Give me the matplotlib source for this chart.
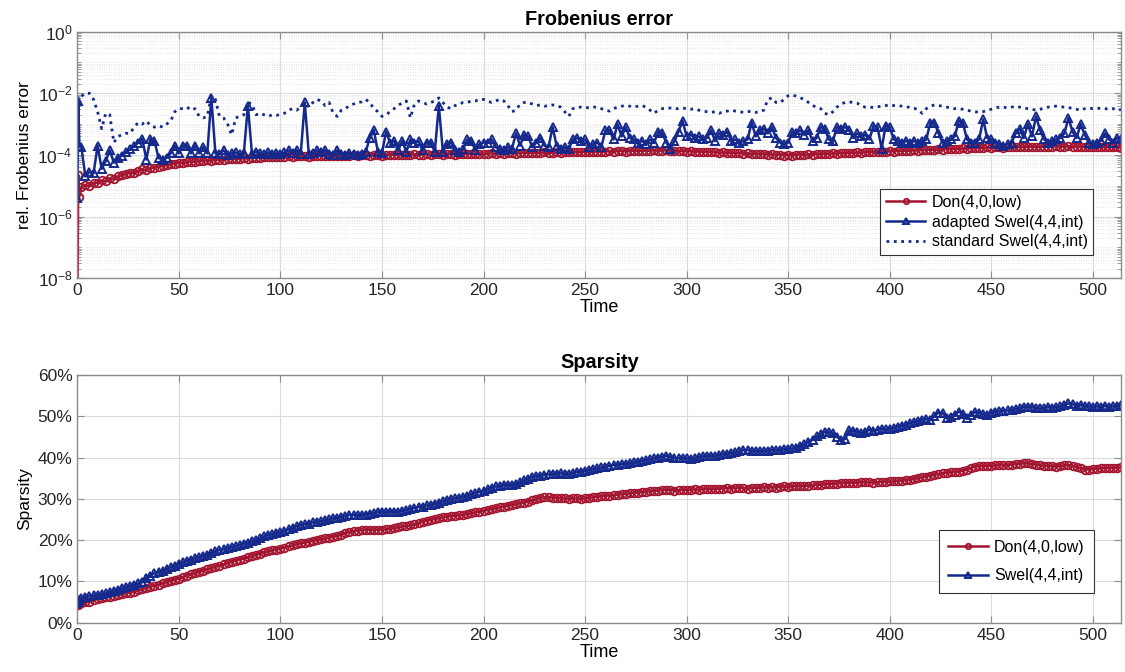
import numpy as np
import matplotlib.pyplot as plt
from matplotlib.ticker import FixedLocator, LogLocator, NullFormatter, PercentFormatter

plt.rcParams["font.family"] = ["Liberation Sans", "DejaVu Sans"]
plt.rcParams["mathtext.fontset"] = "custom"
plt.rcParams["mathtext.rm"] = "Liberation Sans"

# Time axis: first steps are finer, then every 2 time units
time = [0, 0.5, 1] + list(range(2, 516, 2))

# log10 of the relative Frobenius error
don_err_log = [
    -9.0, -4.65, -5.35,
    -5.05, -4.98, -5.02, -4.9, -4.92, -4.83, -4.86, -4.76, -4.78, -4.7,
    -4.66, -4.62, -4.58, -4.6, -4.52, -4.47, -4.5, -4.43, -4.41, -4.38,
    -4.36, -4.33, -4.31, -4.29, -4.26, -4.27, -4.24, -4.22, -4.23, -4.2,
    -4.19, -4.18, -4.19, -4.16, -4.15, -4.16, -4.14, -4.13, -4.14, -4.12,
    -4.11, -4.12, -4.1, -4.09, -4.1, -4.08, -4.07, -4.08, -4.06, -4.06,
    -4.06, -4.05, -4.07, -4.05, -4.04, -4.05, -4.06, -4.04, -4.03, -4.04,
    -4.03, -4.04, -4.02, -4.03, -4.02, -4.04, -4.02, -4.01, -4.03, -4.01,
    -4.0, -4.02, -4.01, -4.0, -4.02, -4.01, -4.0, -3.99, -4.01, -4.0,
    -3.99, -4.0, -3.98, -4.0, -3.99, -3.98, -4.0, -3.98, -3.97, -3.99,
    -3.98, -3.97, -3.99, -3.97, -3.98, -3.96, -3.97, -3.98, -3.96, -3.97,
    -3.96, -3.95, -3.97, -3.95, -3.96, -3.94, -3.95, -3.96, -3.94, -3.93,
    -3.94, -3.93, -3.95, -3.93, -3.92, -3.94, -3.93, -3.92, -3.93, -3.91,
    -3.92, -3.9, -3.92, -3.91, -3.9, -3.92, -3.9, -3.89, -3.91, -3.89,
    -3.88, -3.9, -3.88, -3.87, -3.89, -3.88, -3.86, -3.88, -3.87, -3.86,
    -3.87, -3.85, -3.87, -3.86, -3.85, -3.87, -3.86, -3.88, -3.87, -3.89,
    -3.88, -3.9, -3.89, -3.91, -3.9, -3.92, -3.91, -3.93, -3.92, -3.94,
    -3.93, -3.95, -3.94, -3.96, -3.95, -3.97, -3.96, -3.98, -3.97, -3.99,
    -3.98, -4.0, -3.99, -4.02, -4.0, -4.03, -4.0, -3.99, -4.01, -3.98,
    -3.99, -3.97, -3.98, -3.96, -3.97, -3.95, -3.96, -3.94, -3.95, -3.93,
    -3.94, -3.92, -3.93, -3.91, -3.92, -3.9, -3.91, -3.89, -3.9, -3.88,
    -3.89, -3.87, -3.88, -3.86, -3.87, -3.85, -3.86, -3.84, -3.85, -3.83,
    -3.84, -3.82, -3.83, -3.81, -3.82, -3.8, -3.81, -3.79, -3.8, -3.78,
    -3.79, -3.77, -3.78, -3.76, -3.77, -3.76, -3.75, -3.77, -3.76, -3.75,
    -3.76, -3.74, -3.75, -3.74, -3.73, -3.75, -3.74, -3.73, -3.74, -3.73,
    -3.72, -3.74, -3.73, -3.72, -3.74, -3.73, -3.75, -3.74, -3.76, -3.75,
    -3.74, -3.76, -3.75, -3.74, -3.76, -3.75, -3.77,
]

adapted_err_log = [
    -5.4, -2.25, -3.7,
    -3.75, -4.7, -4.55, -4.6, -3.7, -4.45, -4.2, -3.85, -4.25, -4.1,
    -4.02, -3.92, -3.82, -3.72, -3.6, -3.48, -4.15, -3.48, -3.55, -4.1,
    -4.15, -4.1, -3.95, -3.7, -3.95, -3.7, -3.7, -3.95, -3.7, -3.95,
    -3.75, -3.95, -2.15, -3.95, -3.98, -3.85, -4.0, -3.95, -3.92, -3.98,
    -3.95, -2.4, -3.97, -3.9, -3.95, -3.98, -3.92, -3.97, -3.95, -3.98,
    -3.92, -3.85, -3.95, -3.85, -3.97, -2.3, -3.98, -3.95, -3.85, -3.9,
    -3.85, -3.97, -4.0, -3.85, -3.98, -4.0, -3.95, -3.98, -4.0, -3.97,
    -3.9, -3.45, -3.2, -3.9, -3.95, -3.25, -3.6, -3.55, -3.85, -3.55,
    -3.9, -3.5, -3.6, -3.55, -3.85, -3.6, -3.6, -3.9, -2.4, -3.9,
    -3.65, -3.6, -3.85, -3.9, -3.8, -3.5, -3.55, -3.85, -3.65, -3.6,
    -3.6, -3.5, -3.75, -3.8, -3.85, -3.75, -3.8, -3.3, -3.7, -3.35,
    -3.4, -3.75, -3.6, -3.45, -3.7, -3.75, -3.1, -3.7, -3.8, -3.75,
    -3.8, -3.5, -3.45, -3.55, -3.5, -3.75, -3.65, -3.6, -3.75, -3.2,
    -3.2, -3.5, -3.0, -3.4, -3.1, -3.45, -3.5, -3.6, -3.55, -3.65,
    -3.5, -3.6, -3.25, -3.3, -3.6, -3.8, -3.55, -3.25, -2.9, -3.4,
    -3.35, -3.45, -3.4, -3.5, -3.45, -3.2, -3.55, -3.3, -3.35, -3.25,
    -3.55, -3.5, -3.6, -3.55, -3.5, -2.95, -3.4, -3.2, -3.15, -3.3,
    -3.1, -3.45, -3.6, -3.65, -3.6, -3.25, -3.3, -3.2, -3.35, -3.2,
    -3.55, -3.45, -3.1, -3.15, -3.5, -3.55, -3.1, -3.15, -3.1, -3.2,
    -3.45, -3.3, -3.4, -3.35, -3.5, -3.05, -3.1, -3.8, -3.05, -3.1,
    -3.5, -3.55, -3.6, -3.55, -3.6, -3.55, -3.6, -3.55, -3.5, -2.95,
    -2.95, -3.3, -3.6, -3.55, -3.5, -3.4, -2.9, -2.95, -3.5, -3.6,
    -3.6, -3.5, -2.85, -3.45, -3.5, -3.6, -3.65, -3.7, -3.65, -3.6,
    -3.3, -3.15, -3.45, -3.0, -3.4, -2.75, -3.2, -3.5, -3.6, -3.55,
    -3.5, -3.45, -3.3, -2.8, -3.25, -3.45, -3.0, -3.35, -3.6, -3.65,
    -3.6, -3.55, -3.3, -3.5, -3.6, -3.45, -3.5,
]

standard_err_log = [
    -5.4, -2.3, -2.15,
    -2.1, -2.0, -2.0, -2.2, -2.6, -3.15, -2.65, -2.7, -3.6, -3.4,
    -3.35, -3.3, -3.3, -3.1, -2.95, -3.0, -2.9, -3.05, -3.1, -3.05,
    -3.1, -3.0, -2.9, -2.6, -2.5, -2.5, -2.45, -2.55, -2.5, -2.75,
    -2.8, -2.75, -2.1, -2.2, -2.75, -2.8, -3.0, -3.35, -2.8, -2.75,
    -2.7, -2.3, -2.35, -2.7, -2.65, -2.7, -2.75, -2.7, -2.72, -2.68,
    -2.65, -2.55, -2.5, -2.55, -2.45, -2.3, -2.45, -2.3, -2.2, -2.25,
    -2.4, -2.3, -2.65, -2.75, -2.55, -2.5, -2.4, -2.35, -2.3, -2.28,
    -2.2, -2.3, -2.5, -2.6, -2.75, -2.7, -2.6, -2.5, -2.4, -2.3,
    -2.25, -2.8, -2.35, -2.25, -2.3, -2.35, -2.3, -2.25, -2.15, -2.3,
    -2.45, -2.5, -2.4, -2.35, -2.3, -2.3, -2.25, -2.25, -2.2, -2.2,
    -2.25, -2.3, -2.25, -2.2, -2.25, -2.4, -2.6, -2.55, -2.35, -2.3,
    -2.3, -2.35, -2.4, -2.38, -2.42, -2.4, -2.38, -2.4, -2.45, -2.6,
    -2.75, -2.5, -2.45, -2.45, -2.45, -2.48, -2.45, -2.45, -2.5, -2.55,
    -2.58, -2.5, -2.45, -2.42, -2.4, -2.42, -2.45, -2.42, -2.4, -2.45,
    -2.55, -2.65, -2.55, -2.5, -2.48, -2.48, -2.5, -2.5, -2.48, -2.5,
    -2.52, -2.5, -2.55, -2.58, -2.6, -2.62, -2.6, -2.65, -2.6, -2.58,
    -2.55, -2.58, -2.6, -2.62, -2.6, -2.58, -2.62, -2.6, -2.55, -2.2,
    -2.15, -2.3, -2.3, -2.2, -2.08, -2.05, -2.1, -2.15, -2.2, -2.3,
    -2.4, -2.45, -2.5, -2.65, -2.7, -2.6, -2.45, -2.35, -2.3, -2.28,
    -2.3, -2.32, -2.42, -2.45, -2.45, -2.46, -2.44, -2.42, -2.4, -2.38,
    -2.4, -2.4, -2.42, -2.45, -2.45, -2.48, -2.55, -2.65, -2.5, -2.42,
    -2.38, -2.4, -2.42, -2.45, -2.48, -2.5, -2.5, -2.52, -2.55, -2.58,
    -2.6, -2.62, -2.6, -2.55, -2.52, -2.48, -2.45, -2.45, -2.48, -2.45,
    -2.42, -2.45, -2.48, -2.5, -2.52, -2.55, -2.52, -2.48, -2.45, -2.42,
    -2.42, -2.44, -2.45, -2.46, -2.5, -2.52, -2.55, -2.5, -2.48, -2.5,
    -2.5, -2.48, -2.5, -2.52, -2.5, -2.55, -2.53,
]

# Sparsity in percent
don_sparsity = [
    4.2, 4.3, 4.5,
    4.7, 4.9, 5.1, 5.4, 5.7, 5.9, 6.1, 6.3, 6.5, 6.7,
    6.9, 7.1, 7.3, 7.5, 7.8, 8.1, 8.4, 8.7, 9.0, 9.2,
    9.5, 9.8, 10.1, 10.4, 10.7, 11.0, 11.4, 11.7, 12.0, 12.3,
    12.6, 12.9, 13.2, 13.5, 13.8, 14.1, 14.4, 14.7, 15.0, 15.3,
    15.5, 15.8, 16.1, 16.4, 16.7, 17.0, 17.3, 17.5, 17.7, 17.9,
    18.2, 18.5, 18.7, 19.0, 19.2, 19.4, 19.6, 19.8, 20.0, 20.2,
    20.4, 20.6, 20.8, 21.0, 21.3, 21.7, 22.0, 22.2, 22.3, 22.4,
    22.5, 22.5, 22.4, 22.5, 22.5, 22.6, 22.7, 22.9, 23.1, 23.3,
    23.4, 23.6, 23.8, 24.1, 24.4, 24.7, 24.9, 25.1, 25.3, 25.5,
    25.7, 25.8, 25.9, 26.0, 26.1, 26.3, 26.5, 26.7, 26.9, 27.1,
    27.3, 27.5, 27.7, 27.9, 28.1, 28.3, 28.5, 28.7, 28.9, 29.1,
    29.3, 29.6, 29.9, 30.2, 30.4, 30.4, 30.3, 30.2, 30.1, 30.1,
    30.0, 30.1, 30.1, 30.0, 30.1, 30.2, 30.4, 30.5, 30.6, 30.7,
    30.8, 30.9, 31.0, 31.1, 31.2, 31.3, 31.4, 31.5, 31.6, 31.7,
    31.8, 31.9, 32.0, 32.1, 32.2, 32.1, 32.0, 32.1, 32.2, 32.1,
    32.2, 32.3, 32.2, 32.3, 32.4, 32.3, 32.4, 32.5, 32.5, 32.6,
    32.5, 32.6, 32.7, 32.6, 32.5, 32.6, 32.7, 32.6, 32.8, 32.7,
    32.8, 32.7, 32.9, 33.0, 32.9, 33.0, 33.1, 33.0, 33.1, 33.2,
    33.3, 33.4, 33.4, 33.5, 33.6, 33.6, 33.7, 33.8, 33.8, 33.9,
    33.9, 33.9, 34.0, 34.0, 34.0, 33.9, 34.0, 34.1, 34.1, 34.2,
    34.2, 34.3, 34.4, 34.5, 34.6, 34.8, 35.0, 35.2, 35.4, 35.6,
    35.8, 36.0, 36.2, 36.3, 36.4, 36.5, 36.6, 36.8, 37.1, 37.5,
    37.8, 37.9, 37.9, 38.0, 38.0, 38.1, 38.1, 38.2, 38.2, 38.3,
    38.4, 38.5, 38.6, 38.6, 38.4, 38.3, 38.1, 38.0, 37.9, 37.9,
    37.8, 37.9, 38.1, 38.2, 38.0, 37.7, 37.4, 37.1, 37.1, 37.2,
    37.3, 37.4, 37.4, 37.5, 37.4, 37.5, 37.6,
]

swel_sparsity = [
    4.8, 5.2, 5.5,
    6.0, 6.3, 6.4, 6.6, 6.7, 6.9, 7.1, 7.4, 7.7, 8.0,
    8.3, 8.6, 8.9, 9.2, 9.5, 9.8, 10.9, 11.4, 12.0, 12.2,
    12.6, 13.1, 13.4, 13.8, 14.3, 14.6, 15.0, 15.3, 15.6, 15.9,
    16.2, 16.5, 16.9, 17.3, 17.6, 17.8, 18.0, 18.3, 18.5, 18.8,
    19.1, 19.4, 19.7, 20.0, 20.4, 20.9, 21.3, 21.4, 21.7, 21.9,
    22.2, 22.6, 22.9, 23.4, 23.7, 23.9, 24.0, 24.3, 24.5, 24.6,
    24.8, 25.0, 25.3, 25.4, 25.6, 25.9, 26.1, 26.1, 26.0, 26.1,
    26.2, 26.4, 26.5, 26.8, 26.9, 26.7, 26.9, 26.8, 26.9, 27.1,
    27.3, 27.6, 27.8, 28.0, 28.1, 28.4, 28.5, 28.8, 29.1, 29.4,
    29.7, 29.9, 30.1, 30.3, 30.5, 30.8, 31.1, 31.4, 31.7, 31.9,
    32.3, 32.7, 33.0, 33.1, 33.3, 33.3, 33.4, 33.6, 34.0, 34.5,
    34.9, 35.3, 35.5, 35.6, 35.8, 35.9, 36.0, 36.1, 36.2, 36.1,
    36.0, 36.3, 36.5, 36.6, 36.8, 37.0, 37.2, 37.4, 37.6, 37.8,
    38.0, 38.2, 38.3, 38.4, 38.5, 38.6, 38.8, 39.0, 39.2, 39.4,
    39.6, 39.8, 40.0, 40.2, 40.4, 40.2, 39.9, 39.8, 39.9, 39.8,
    39.7, 39.8, 40.1, 40.3, 40.3, 40.4, 40.4, 40.6, 40.8, 40.9,
    41.1, 41.3, 41.5, 41.8, 41.8, 41.7, 41.6, 41.5, 41.6, 41.7,
    41.8, 41.8, 41.9, 42.0, 42.1, 42.2, 42.4, 42.8, 43.2, 43.8,
    44.3, 45.1, 45.6, 46.2, 46.1, 45.9, 45.0, 44.2, 44.5, 46.6,
    46.5, 46.2, 45.9, 46.3, 46.7, 46.5, 46.7, 46.9, 46.8, 47.0,
    47.2, 47.5, 47.7, 48.0, 48.3, 48.6, 48.8, 49.1, 49.3, 49.2,
    50.0, 50.9, 50.8, 49.6, 49.8, 50.4, 51.1, 50.6, 49.6, 50.3,
    51.0, 50.9, 50.5, 50.3, 50.9, 51.1, 51.2, 51.3, 51.4, 51.5,
    51.7, 51.9, 52.2, 52.3, 52.2, 52.0, 51.9, 52.0, 52.2, 52.1,
    52.2, 52.4, 52.8, 53.1, 52.9, 52.6, 52.7, 52.5, 52.4, 52.2,
    52.4, 52.3, 52.5, 52.3, 52.4, 52.6, 52.7,
]

red = "#a2142f"
blue = "#15298c"
grid_col = "#dcdcdc"
spine_col = "#8c8c8c"
text_col = "#262626"

fig = plt.figure(figsize=(11.25, 6.72), dpi=100)
ax1 = fig.add_axes([0.0687, 0.586, 0.928, 0.367])
ax2 = fig.add_axes([0.0687, 0.0734, 0.928, 0.3686])

# Top panel: Frobenius error
ax1.semilogy(time, 10.0 ** np.array(don_err_log), color=red, lw=1.8,
             marker="o", ms=5.5, mfc="none", mew=1.3, label="Don(4,0,low)")
ax1.semilogy(time, 10.0 ** np.array(adapted_err_log), color=blue, lw=1.8,
             marker="^", ms=5.5, mfc="none", mew=1.4, label="adapted Swel(4,4,int)")
ax1.semilogy(time, 10.0 ** np.array(standard_err_log), color=blue, lw=2.0,
             ls=":", label="standard Swel(4,4,int)")

ax1.set_xlim(0, 514)
ax1.set_ylim(1e-8, 1e0)
ax1.yaxis.set_major_locator(FixedLocator([1e-8, 1e-6, 1e-4, 1e-2, 1e0]))
ax1.yaxis.set_minor_locator(LogLocator(base=10, subs=np.arange(1, 10), numticks=20))
ax1.yaxis.set_minor_formatter(NullFormatter())
ax1.set_xticks(np.arange(0, 501, 50))
ax1.grid(True, which="major", color=grid_col, lw=0.8)
ax1.grid(True, which="minor", axis="y", color="#cfcfcf", lw=0.5, ls=(0, (1, 2.5)))
ax1.set_title("Frobenius error", fontsize=14.3, fontweight="bold", pad=5)
ax1.set_xlabel("Time", fontsize=13, labelpad=1)
ax1.set_ylabel("rel. Frobenius error", fontsize=12.5, labelpad=4)
leg1 = ax1.legend(loc="lower right", bbox_to_anchor=(0.973, 0.094), borderaxespad=0,
                  fontsize=11.5, fancybox=False, edgecolor="#333333", framealpha=1,
                  handlelength=2.45, handletextpad=0.4, borderpad=0.35,
                  labelspacing=0.3, markerscale=0.7)
leg1.get_frame().set_linewidth(0.8)

# Bottom panel: sparsity
ax2.plot(time, don_sparsity, color=red, lw=1.8, marker="o", ms=5.5, mfc="none",
         mew=1.3, label="Don(4,0,low)")
ax2.plot(time, swel_sparsity, color=blue, lw=1.8, marker="^", ms=5.5, mfc="none",
         mew=1.4, label="Swel(4,4,int)")
ax2.set_xlim(0, 514)
ax2.set_ylim(0, 60)
ax2.set_yticks(np.arange(0, 61, 10))
ax2.yaxis.set_major_formatter(PercentFormatter(decimals=0))
ax2.set_xticks(np.arange(0, 501, 50))
ax2.grid(True, color=grid_col, lw=0.8)
ax2.set_title("Sparsity", fontsize=14.3, fontweight="bold", pad=5)
ax2.set_xlabel("Time", fontsize=13, labelpad=1)
ax2.set_ylabel("Sparsity", fontsize=12.5, labelpad=4)
leg2 = ax2.legend(loc="lower right", bbox_to_anchor=(0.974, 0.12), borderaxespad=0,
                  fontsize=11.5, fancybox=False, edgecolor="#333333", framealpha=1,
                  handlelength=2.45, handletextpad=0.4, borderpad=0.6,
                  labelspacing=0.85, markerscale=0.7)
leg2.get_frame().set_linewidth(0.8)

for ax in (ax1, ax2):
    ax.set_axisbelow(True)
    for sp in ax.spines.values():
        sp.set_color(spine_col)
        sp.set_linewidth(1.0)
    ax.tick_params(which="both", direction="in", top=True, right=True,
                   colors=spine_col, labelcolor=text_col, labelsize=12.5)
    ax.tick_params(which="major", length=5)
    ax.tick_params(which="minor", length=3)

fig.savefig("out.png", dpi=100)
